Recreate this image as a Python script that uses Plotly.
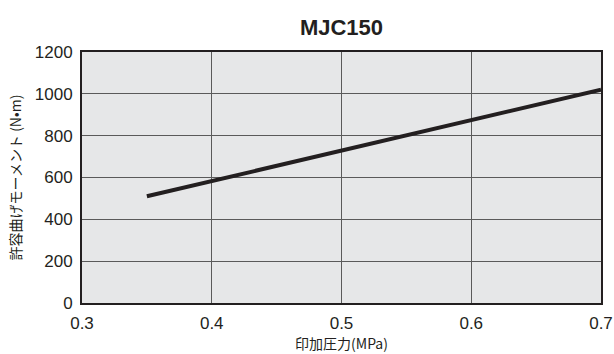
import plotly.graph_objects as go

pressure = [0.35, 0.7]
moment = [510, 1020]
x_ticks = [0.3, 0.4, 0.5, 0.6, 0.7]
x_labels = ["0.3", "0.4", "0.5", "0.6", "0.7"]
y_ticks = [0, 200, 400, 600, 800, 1000, 1200]

fig = go.Figure()
fig.add_trace(go.Scatter(x=pressure, y=moment, mode="lines",
                         line=dict(color="#231f20", width=4), showlegend=False))

font_main = "Liberation Sans, Arial, sans-serif"
font_jp = "Noto Sans CJK JP, Liberation Sans, sans-serif"
ink = "#231f20"

fig.update_layout(
    width=614, height=354,
    margin=dict(l=82, r=13, t=52, b=51),
    paper_bgcolor="white",
    plot_bgcolor="#e6e7e8",
    title=dict(text="<b>MJC150</b>", x=0.5, xref="paper", xanchor="center",
               y=1 - 27 / 354, yref="container", yanchor="middle",
               font=dict(family=font_main, size=22, color=ink)),
    xaxis=dict(range=[0.3, 0.7], tickvals=x_ticks, ticktext=x_labels, automargin=False,
               showgrid=True, gridcolor="#5a5a5a", gridwidth=1, zeroline=False,
               showline=True, linecolor=ink, linewidth=2, mirror=True,
               ticks="", ticklabelstandoff=4,
               tickfont=dict(family=font_main, size=17, color=ink),
               title=dict(text="印加圧力(MPa)", font=dict(family=font_jp, size=14, color=ink), standoff=6)),
    yaxis=dict(range=[0, 1200], tickvals=y_ticks, automargin=False,
               showgrid=True, gridcolor="#5a5a5a", gridwidth=1, zeroline=False,
               showline=True, linecolor=ink, linewidth=2, mirror=True,
               ticks="", ticklabelstandoff=4,
               tickfont=dict(family=font_main, size=17, color=ink),
               title=dict(text="許容曲げモーメント (N•m)", font=dict(family=font_jp, size=14, color=ink), standoff=10)),
)

fig.write_html("out.html", config={"displayModeBar": False},
               post_script="document.body.style.margin='0';")
